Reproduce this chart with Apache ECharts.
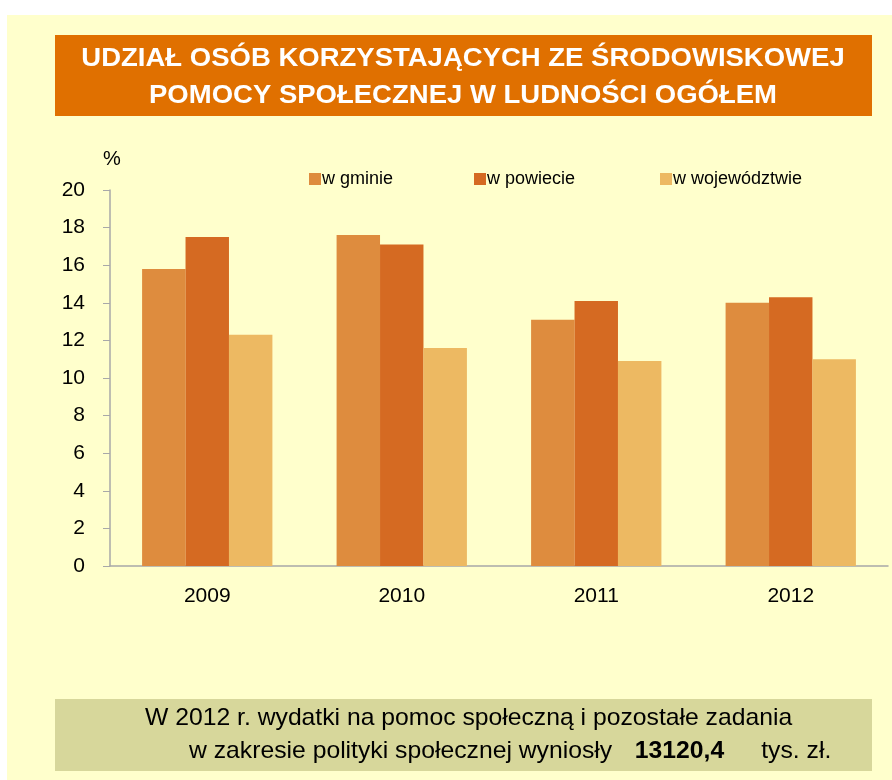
<!DOCTYPE html>
<html>
<head>
<meta charset="utf-8">
<script src="https://cdn.jsdelivr.net/npm/echarts@6/dist/echarts.min.js"></script>
<style>
  html, body { margin: 0; padding: 0; background: #fff; }
  #main { width: 892px; height: 780px; }
</style>
</head>
<body>
<div id="main"></div>
<script>
// lata i wartosci (%)
var years = ['2009', '2010', '2011', '2012']
var gmina = [15.8, 17.6, 13.1, 14.0]
var powiat = [17.5, 17.1, 14.1, 14.3]
var wojewodztwo = [12.3, 11.6, 10.9, 11.0]
var seriesNames = ['w gminie', 'w powiecie', 'w województwie']
var colors = ['#DE8C3E', '#D56A22', '#EDB962']

var titleLines = ['UDZIAŁ OSÓB KORZYSTAJĄCYCH ZE ŚRODOWISKOWEJ', 'POMOCY SPOŁECZNEJ W LUDNOŚCI OGÓŁEM']

var myChart = echarts.init(document.getElementById('main'))

var font = 'Liberation Sans, Arial, sans-serif'

function bar(name, data, color) {
    return {
        name: name,
        type: 'bar',
        data: data,
        barGap: '0%',
        barCategoryGap: '33%',
        itemStyle: { color: color },
        emphasis: { disabled: true }
    }
}

// osobna legenda dla kazdej serii, zeby trafic w pozycje
var legendLeft = [304, 469, 655]
var legends = seriesNames.map((n, i) => ({
    data: [n],
    left: legendLeft[i],
    top: 165,
    itemWidth: 12,
    itemHeight: 12,
    itemGap: 0,
    icon: 'rect',
    selectedMode: false,
    textStyle: { fontSize: 18, color: '#000', fontFamily: font, padding: [0, 0, 0, -4] }
}))

var option = {
    backgroundColor: '#fff',
    animation: false,
    graphic: [
        // tlo
        { type: 'rect', z: -10, shape: { x: 7, y: 15, width: 885, height: 765 }, style: { fill: '#FFFFCC' } },
        // naglowek
        { type: 'rect', z: -5, shape: { x: 55, y: 35, width: 817, height: 81 }, style: { fill: '#E07000' } },
        {
            type: 'text', x: 463, y: 41, z: 10, scaleX: 1.1,
            style: {
                text: titleLines.join('\n'), fill: '#fff', font: 'bold 25px ' + font,
                align: 'center', lineHeight: 37
            }
        },
        { type: 'text', x: 103, y: 149, style: { text: '%', fill: '#000', font: '20px ' + font } },
        // ramka na dole
        { type: 'rect', z: -5, shape: { x: 55, y: 699, width: 817, height: 72 }, style: { fill: '#D7D79B' } },
        {
            type: 'text', x: 145, y: 706, z: 10, scaleX: 1.03,
            style: { text: 'W 2012 r. wydatki na pomoc społeczną i pozostałe zadania', fill: '#000', font: '24px ' + font }
        },
        {
            type: 'text', x: 189, y: 739, z: 10, scaleX: 1.03,
            style: {
                text: '{a|w zakresie polityki społecznej wyniosły}{b|13120,4}{a|tys. zł.}',
                rich: {
                    a: { fill: '#000', font: '24px ' + font },
                    b: { fill: '#000', font: 'bold 24px ' + font, padding: [0, 36, 0, 22] }
                }
            }
        }
    ],
    legend: legends,
    grid: { left: 110, right: 4, top: 190, bottom: 214 },
    xAxis: {
        type: 'category',
        data: years,
        axisLine: { lineStyle: { color: '#A8A8A8', width: 1.5 } },
        axisTick: { length: 6, lineStyle: { color: '#A8A8A8' } },
        axisLabel: { fontSize: 21, color: '#000', fontFamily: font, margin: 20 }
    },
    yAxis: {
        type: 'value',
        min: 0,
        max: 20,
        interval: 2,
        axisLine: { show: true, lineStyle: { color: '#A8A8A8', width: 1.5 } },
        axisTick: { show: true, length: 7, lineStyle: { color: '#A8A8A8' } },
        splitLine: { show: false },
        axisLabel: { fontSize: 21, color: '#000', fontFamily: font, margin: 25 }
    },
    series: [
        bar(seriesNames[0], gmina, colors[0]),
        bar(seriesNames[1], powiat, colors[1]),
        bar(seriesNames[2], wojewodztwo, colors[2])
    ]
}

myChart.setOption(option)
</script>
</body>
</html>
